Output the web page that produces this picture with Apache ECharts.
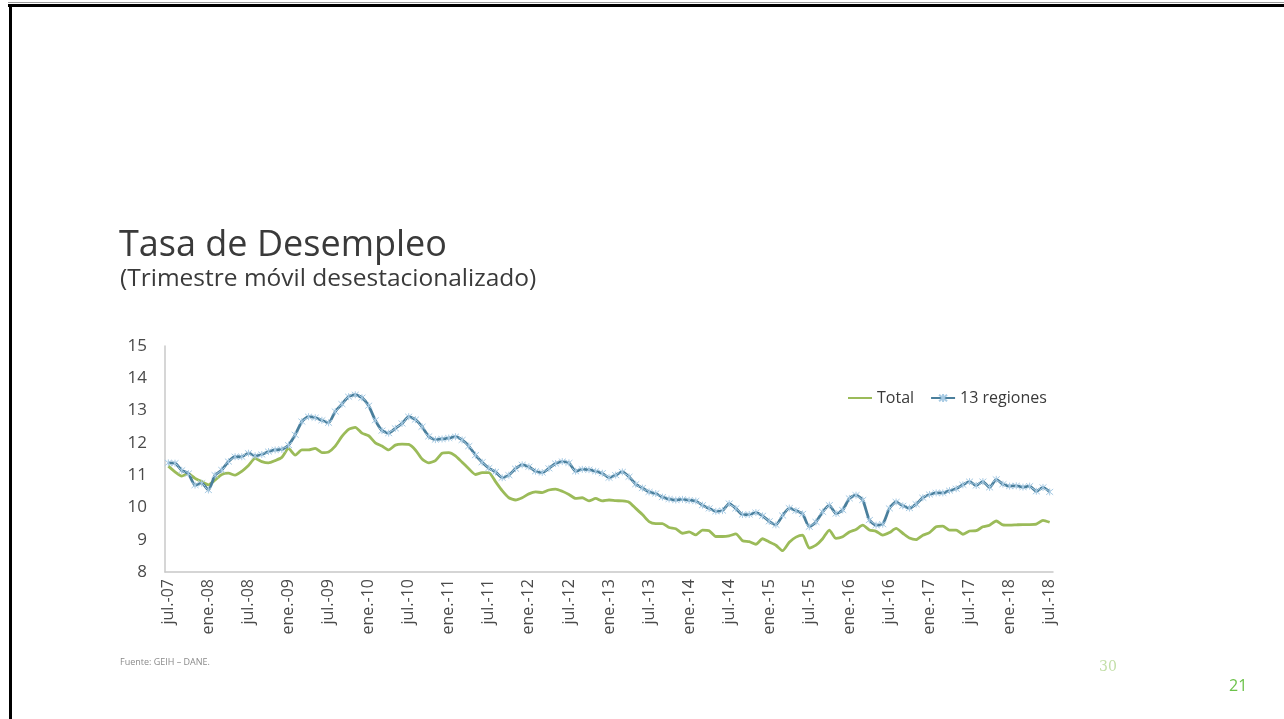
<!DOCTYPE html>
<html>
<head>
<meta charset="utf-8">
<script src="https://cdn.jsdelivr.net/npm/echarts@6/dist/echarts.min.js"></script>
<style>
  html, body { margin: 0; padding: 0; background: #ffffff; }
  #chart { width: 1284px; height: 719px; }
</style>
</head>
<body>
<div id="chart"></div>
<script>
// Month abbreviations used on the category axis
const monthNames = ['ene.', 'feb.', 'mar.', 'abr.', 'may.', 'jun.', 'jul.', 'ago.', 'sep.', 'oct.', 'nov.', 'dic.'];
const startYear = 2007;
const startMonth = 6; // julio
const monthCount = 133; // jul.-07 .. jul.-18

// Tasa de desempleo, total nacional (%)
const total = [
  11.28, 11.10, 10.97, 11.05, 10.90, 10.80, 10.70, 10.85, 11.02, 11.06,
  11.00, 11.12, 11.30, 11.52, 11.42, 11.38, 11.45, 11.55, 11.83, 11.62,
  11.78, 11.78, 11.83, 11.70, 11.72, 11.90, 12.20, 12.42, 12.48, 12.30,
  12.22, 12.00, 11.90, 11.78, 11.93, 11.96, 11.95, 11.78, 11.50, 11.38,
  11.45, 11.68, 11.70, 11.60, 11.40, 11.20, 11.02, 11.08, 11.08, 10.80,
  10.52, 10.30, 10.23, 10.30, 10.42, 10.48, 10.46, 10.54, 10.57, 10.50,
  10.40, 10.28, 10.30, 10.20, 10.28, 10.20, 10.23, 10.21, 10.20, 10.16,
   9.97,  9.78,  9.56,  9.50,  9.50,  9.38,  9.34,  9.20,  9.24,  9.15,
   9.30,  9.28,  9.10,  9.10,  9.12,  9.18,  8.97,  8.94,  8.86,  9.03,
   8.93,  8.83,  8.66,  8.92,  9.08,  9.14,  8.74,  8.83,  9.03,  9.30,
   9.04,  9.09,  9.24,  9.32,  9.45,  9.30,  9.26,  9.14,  9.22,  9.35,
   9.20,  9.05,  9.00,  9.14,  9.22,  9.40,  9.42,  9.30,  9.30,  9.17,
   9.27,  9.28,  9.40,  9.45,  9.58,  9.46,  9.45,  9.46,  9.47,  9.47,
   9.48,  9.60,  9.54
];

// Tasa de desempleo, 13 ciudades y áreas metropolitanas (%)
const regiones13 = [
  11.38, 11.37, 11.15, 11.05, 10.69, 10.75, 10.54, 11.00, 11.16, 11.42,
  11.57, 11.57, 11.68, 11.60, 11.64, 11.73, 11.78, 11.80, 11.93, 12.25,
  12.66, 12.81, 12.78, 12.70, 12.62, 12.97, 13.20, 13.43, 13.49, 13.40,
  13.15, 12.70, 12.38, 12.30, 12.45, 12.60, 12.81, 12.72, 12.50, 12.20,
  12.10, 12.12, 12.15, 12.19, 12.09, 11.90, 11.62, 11.40, 11.22, 11.10,
  10.92, 11.00, 11.20, 11.32, 11.26, 11.12, 11.08, 11.21, 11.36, 11.42,
  11.38, 11.12, 11.18, 11.17, 11.12, 11.06, 10.92, 11.00, 11.10, 10.95,
  10.72, 10.60, 10.48, 10.43, 10.32, 10.26, 10.23, 10.25, 10.22, 10.20,
  10.07,  9.97,  9.88,  9.90, 10.12,  9.97,  9.78,  9.78,  9.84,  9.74,
   9.57,  9.46,  9.75,  9.98,  9.90,  9.80,  9.40,  9.55,  9.86, 10.07,
   9.81,  9.92, 10.28, 10.38, 10.23,  9.61,  9.45,  9.48,  9.97, 10.17,
  10.05,  9.98, 10.10, 10.30, 10.40, 10.45, 10.45, 10.52, 10.58, 10.70,
  10.80, 10.68, 10.80, 10.62, 10.87, 10.72, 10.66, 10.67, 10.63, 10.66,
  10.50, 10.62, 10.48
];

const yTicks = { min: 8, max: 15, step: 1 };

const categories = [];
for (let k = 0; k < monthCount; k++) {
  const m = (startMonth + k) % 12;
  const y = startYear + Math.floor((startMonth + k) / 12);
  categories.push(monthNames[m] + '-' + String(y % 100).padStart(2, '0'));
}

const GREEN = '#9bbb59';
const BLUE = '#4a7f9c';
const MARK = '#a8cbe4';
const TEXT = '#4a4a4a';
const FONT = '"Open Sans", "Liberation Sans", sans-serif';

// asterisk-like marker drawn as a stroked path
const crossSymbol = 'path://M0,0L10,10M10,0L0,10M5,-1L5,11';

const chart = echarts.init(document.getElementById('chart'), null, { renderer: 'canvas' });

chart.setOption({
  backgroundColor: '#ffffff',
  animation: false,
  textStyle: { fontFamily: FONT },
  grid: { left: 165, right: 231, top: 346, bottom: 147, containLabel: false },
  legend: {
    left: 842,
    top: 385,
    itemWidth: 24,
    itemHeight: 10,
    itemGap: 16,
    textStyle: { fontSize: 16, color: '#3a3a3a', fontFamily: FONT },
    data: [
      { name: 'Total', itemStyle: { opacity: 0 } },
      { name: '13 regiones' }
    ]
  },
  xAxis: {
    type: 'category',
    data: categories,
    boundaryGap: true,
    axisLine: { show: true, lineStyle: { color: '#c8c8c8', width: 1.5 } },
    axisTick: { show: false },
    axisLabel: {
      interval: 5,
      rotate: 90,
      margin: 7,
      fontSize: 16,
      color: TEXT,
      fontFamily: FONT
    },
    splitLine: { show: false }
  },
  yAxis: {
    type: 'value',
    min: yTicks.min,
    max: yTicks.max,
    interval: yTicks.step,
    axisLine: { show: true, lineStyle: { color: '#c8c8c8', width: 1.5 } },
    axisTick: { show: false },
    axisLabel: { fontSize: 17, color: TEXT, margin: 18, fontFamily: FONT },
    splitLine: { show: false }
  },
  series: [
    {
      name: 'Total',
      type: 'line',
      data: total,
      smooth: 0.2,
      showSymbol: false,
      symbol: 'none',
      lineStyle: { color: GREEN, width: 2.8 },
      itemStyle: { color: GREEN },
      z: 2
    },
    {
      name: '13 regiones',
      type: 'line',
      data: regiones13,
      smooth: 0.2,
      showSymbol: true,
      showAllSymbol: true,
      symbol: crossSymbol,
      symbolSize: 7,
      lineStyle: { color: BLUE, width: 2.8 },
      itemStyle: { color: MARK, borderColor: MARK, borderWidth: 1 },
      z: 3
    }
  ],
  graphic: [
    // slide frame
    { type: 'rect', shape: { x: 8, y: 2, width: 1280, height: 1 }, style: { fill: '#9a9a9a' }, silent: true },
    { type: 'rect', shape: { x: 8, y: 4, width: 1280, height: 3 }, style: { fill: '#000000' }, silent: true },
    { type: 'rect', shape: { x: 9, y: 4, width: 3, height: 720 }, style: { fill: '#000000' }, silent: true },
    {
      type: 'text', left: 119, top: 228,
      style: { text: 'Tasa de Desempleo', font: '36px ' + FONT, fill: '#3a3a3a' }
    },
    {
      type: 'text', left: 120, top: 267,
      style: { text: '(Trimestre móvil desestacionalizado)', font: '24.5px ' + FONT, fill: '#3a3a3a' }
    },
    {
      type: 'text', left: 120, top: 658,
      style: { text: 'Fuente: GEIH – DANE.', font: '9px ' + FONT, fill: '#8a8a8a' }
    },
    {
      type: 'text', left: 1099, top: 660,
      style: { text: '30', font: '14px "DejaVu Serif", serif', fill: '#c3dfa8' }
    },
    {
      type: 'text', left: 1229, top: 678,
      style: { text: '21', font: '16px ' + FONT, fill: '#6cc24a' }
    }
  ]
});
</script>
</body>
</html>
